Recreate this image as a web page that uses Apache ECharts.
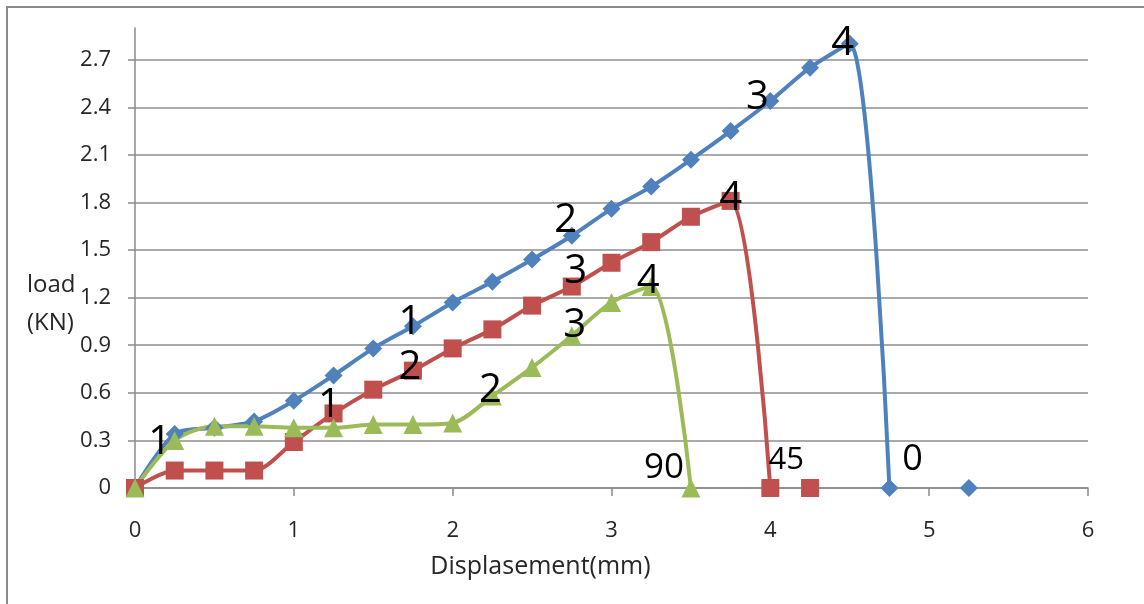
<!DOCTYPE html>
<html>
<head>
<meta charset="utf-8">
<script src="https://cdn.jsdelivr.net/npm/echarts@6/dist/echarts.min.js"></script>
<style>
html,body{margin:0;padding:0;background:#fff;}
#wrap{position:relative;width:1144px;height:604px;overflow:hidden;}
#frame{position:absolute;left:6px;top:6px;width:1200px;height:700px;border-left:2px solid #8a8a8a;border-top:2px solid #8a8a8a;}
#chart{position:absolute;left:0;top:0;width:1144px;height:604px;}
</style>
</head>
<body>
<div id="wrap"><div id="frame"></div><div id="chart"></div></div>
<script>
// ---- data ----
const xTicks = [0, 1, 2, 3, 4, 5, 6];
const yTicks = [0, 0.3, 0.6, 0.9, 1.2, 1.5, 1.8, 2.1, 2.4, 2.7];

// blue (0)
const blueX = [0, 0.25, 0.5, 0.75, 1, 1.25, 1.5, 1.75, 2, 2.25, 2.5, 2.75, 3, 3.25, 3.5, 3.75, 4, 4.25, 4.5, 4.75, 5.25, 5.25];
const blueY = [0, 0.34, 0.38, 0.42, 0.55, 0.71, 0.88, 1.02, 1.17, 1.30, 1.44, 1.59, 1.76, 1.90, 2.07, 2.25, 2.44, 2.65, 2.80, 0, null, 0];
const blueLabels = ['', '', '', '', '', '', '', '1', '', '', '', '2', '', '', '', '', '3', '', '4', '0', '', ''];

// red (45)
const redX = [0, 0.25, 0.5, 0.75, 1, 1.25, 1.5, 1.75, 2, 2.25, 2.5, 2.75, 3, 3.25, 3.5, 3.75, 4, 4.25, 4.25];
const redY = [0, 0.11, 0.11, 0.11, 0.29, 0.47, 0.62, 0.74, 0.88, 1.00, 1.15, 1.27, 1.42, 1.55, 1.71, 1.81, 0, null, 0];
const redLabels = ['', '', '', '', '', '1', '', '2', '', '', '', '3', '', '', '', '4', '45', '', ''];

// green (90)
const greenX = [0, 0.25, 0.5, 0.75, 1, 1.25, 1.5, 1.75, 2, 2.25, 2.5, 2.75, 3, 3.25, 3.5];
const greenY = [0, 0.30, 0.39, 0.39, 0.38, 0.38, 0.40, 0.40, 0.41, 0.58, 0.76, 0.96, 1.17, 1.27, 0];
const greenLabels = ['', '1', '', '', '', '', '', '', '', '2', '', '3', '', '4', '90'];

// ---- styling (kept out of the data arrays) ----
const FONT = '"Open Sans", "Noto Sans", sans-serif';
const labelSizes = {'0': 36, '45': 31, '90': 35};
const labelOffsets = [
  {7: [-3, -4], 11: [-6, -15], 16: [-13, -3], 18: [-7, 0], 19: [23, -28]},
  {5: [-4, -8], 7: [-3, -3], 11: [4, -15], 15: [0, -2], 16: [16, -28]},
  {1: [-15, 2], 9: [-2, -5], 11: [3, -10], 13: [-3, -5], 14: [-27, -20]}
];

function build(xs, ys, labels) {
  return xs.map((x, i) => {
    const item = {value: [x, ys[i] === null ? '-' : ys[i]]};
    const t = labels[i];
    if (t) {
      item.label = {
        show: true,
        formatter: t,
        position: 'inside',
        fontSize: labelSizes[t] || 40,
        fontFamily: FONT,
        color: '#000'
      };
    }
    return item;
  });
}

const chart = echarts.init(document.getElementById('chart'), null, {renderer: 'canvas'});
const series = [
  {xs: blueX, ys: blueY, lb: blueLabels, color: '#4F81BD', symbol: 'diamond', size: 18},
  {xs: redX, ys: redY, lb: redLabels, color: '#C0504D', symbol: 'rect', size: 18},
  {xs: greenX, ys: greenY, lb: greenLabels, color: '#9BBB59', symbol: 'triangle', size: 19}
].map((s, si) => ({
  type: 'line',
  data: build(s.xs, s.ys, s.lb),
  smooth: 0.28,
  connectNulls: false,
  symbol: s.symbol,
  symbolSize: s.size,
  showAllSymbol: true,
  itemStyle: {color: s.color},
  lineStyle: {color: s.color, width: 4},
  label: {show: false},
  labelLayout: function (p) {
    const off = labelOffsets[si][p.dataIndex] || [0, 0];
    return {dx: off[0], dy: off[1], hideOverlap: false};
  },
  emphasis: {disabled: true},
  animation: false
}));

chart.setOption({
  animation: false,
  title: {
    text: 'load\n(KN)',
    left: 22,
    top: 261,
    textStyle: {fontFamily: FONT, fontSize: 24, fontWeight: 'normal', color: '#262626', lineHeight: 38}
  },
  grid: {left: 135, right: 56, top: 28, bottom: 116, containLabel: false},
  xAxis: {
    type: 'value',
    min: xTicks[0],
    max: xTicks[xTicks.length - 1],
    interval: 1,
    name: 'Displasement(mm)',
    nameLocation: 'middle',
    nameGap: 66,
    nameTextStyle: {fontFamily: FONT, fontSize: 25, color: '#262626', padding: [0, 142, 0, 0]},
    axisLine: {show: true, onZero: false, lineStyle: {color: '#8a8a8a', width: 1.5}},
    axisTick: {show: true, inside: false, length: 8, lineStyle: {color: '#8a8a8a', width: 1.5}},
    axisLabel: {fontFamily: FONT, fontSize: 22, color: '#262626', margin: 32, formatter: v => String(v)},
    splitLine: {show: false}
  },
  yAxis: {
    type: 'value',
    min: 0,
    max: 2.9,
    interval: 0.3,
    axisLine: {show: true, lineStyle: {color: '#8a8a8a', width: 1.5}},
    axisTick: {show: true, inside: false, length: 7, customValues: yTicks, lineStyle: {color: '#8a8a8a', width: 1.5}},
    axisLabel: {fontFamily: FONT, fontSize: 22, color: '#262626', margin: 24,
      customValues: yTicks,
      formatter: v => (v === 0 ? '0' : (+v).toFixed(1))},
    splitLine: {show: true, lineStyle: {color: '#8e8e8e', width: 1.5}}
  },
  series: series
});
</script>
</body>
</html>
